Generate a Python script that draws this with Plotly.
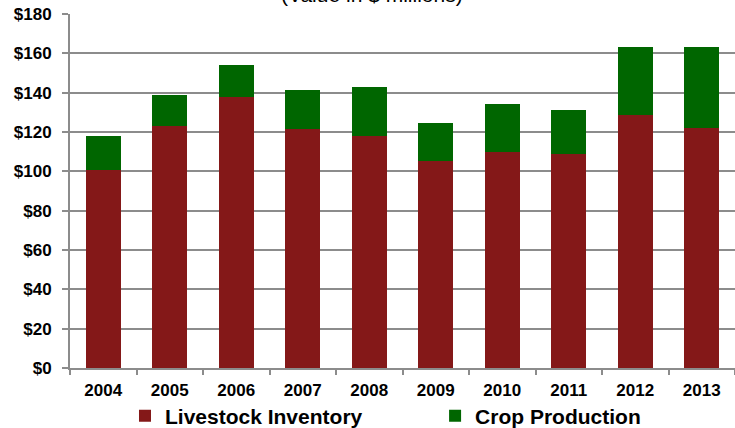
import plotly.graph_objects as go

years = ["2004", "2005", "2006", "2007", "2008", "2009", "2010", "2011", "2012", "2013"]
livestock = [100.7, 123.2, 137.8, 121.7, 118.1, 105.2, 109.7, 108.6, 128.6, 121.9]
crop = [17.4, 15.8, 16.2, 19.5, 24.9, 19.4, 24.5, 22.6, 34.4, 41.3]
y_ticks = [0, 20, 40, 60, 80, 100, 120, 140, 160, 180]
y_tick_labels = ["$0", "$20", "$40", "$60", "$80", "$100", "$120", "$140", "$160", "$180"]

FONT = "Arial"
GRID = "#8c8c8c"

fig = go.Figure()
fig.add_trace(go.Bar(x=years, y=livestock, name="Livestock Inventory",
                     marker=dict(color="#841818", line=dict(width=0)), legend="legend"))
fig.add_trace(go.Bar(x=years, y=crop, name="Crop Production",
                     marker=dict(color="#006600", line=dict(width=0)), legend="legend2"))

legend_font = dict(size=21, family=FONT, color="black", weight="bold")
fig.update_layout(
    barmode="stack",
    bargap=0.475,
    width=735, height=428,
    margin=dict(l=70, r=0, t=14, b=60, autoexpand=False),
    plot_bgcolor="white", paper_bgcolor="white",
    font=dict(family=FONT, color="black"),
    showlegend=True,
    legend=dict(orientation="h", x=0.0827, y=-0.1356, xanchor="left", yanchor="middle",
                font=legend_font, itemwidth=30, bgcolor="rgba(0,0,0,0)"),
    legend2=dict(orientation="h", x=0.549, y=-0.1356, xanchor="left", yanchor="middle",
                 font=legend_font, itemwidth=30, bgcolor="rgba(0,0,0,0)"),
    annotations=[dict(text="(Value in $ millions)", xref="paper", yref="paper",
                      x=0.454, y=1.0164, xanchor="center", yanchor="bottom",
                      showarrow=False, font=dict(size=21, family=FONT, color="black"))],
)
fig.update_xaxes(
    type="category", showline=True, linecolor=GRID, linewidth=2,
    ticks="outside", tickson="boundaries", ticklen=5, tickcolor=GRID, tickwidth=1.5,
    tickfont=dict(size=17, family=FONT, color="black", weight="bold"),
    ticklabelstandoff=6,
    showgrid=False, automargin=False,
)
fig.update_yaxes(
    range=[0, 180], tickvals=y_ticks, ticktext=y_tick_labels,
    showline=True, linecolor=GRID, linewidth=2,
    ticks="outside", ticklen=6, tickcolor=GRID, tickwidth=1.5,
    ticklabelstandoff=7,
    showgrid=True, gridcolor=GRID, gridwidth=1.5,
    tickfont=dict(size=17, family=FONT, color="black", weight="bold"),
    zeroline=False, automargin=False,
)
fig.write_html("out.html", config={"displayModeBar": False},
               post_script="document.body.style.margin='0';")
